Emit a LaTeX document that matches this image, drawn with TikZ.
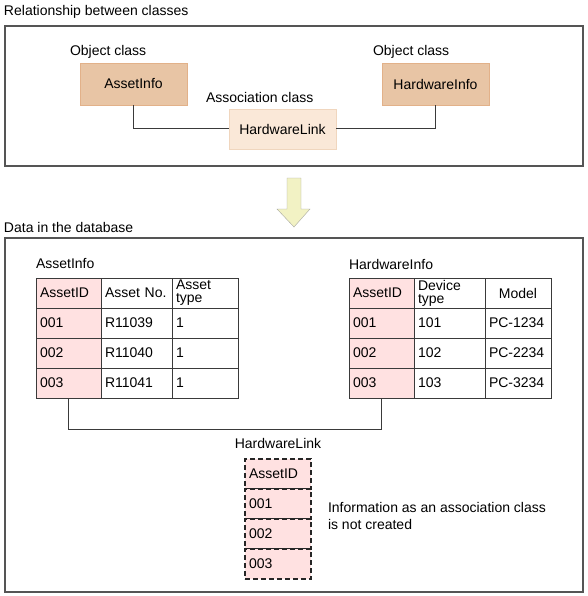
\documentclass[tikz,border=0pt]{standalone}
\usepackage{fontspec}
\setmainfont{Liberation Sans}
\usetikzlibrary{positioning}

\definecolor{objfill}{HTML}{E8C5A5}
\definecolor{objdraw}{HTML}{E2B189}
\definecolor{assocfill}{HTML}{FAE8D8}
\definecolor{assocdraw}{HTML}{F0D6BE}
\definecolor{keyfill}{HTML}{FFE1E1}
\definecolor{linecol}{HTML}{3A3A3A}
\definecolor{framecol}{HTML}{555555}
\definecolor{arrowfill}{HTML}{F2F2C4}
\definecolor{arrowdraw}{HTML}{A8A8A0}

\begin{document}
\begin{tikzpicture}[
    x=1pt, y=-1pt,
    every node/.style={font=\fontsize{14}{13}\selectfont, inner sep=0pt, outer sep=0pt},
    lbl/.style={anchor=west},
    objbox/.style={draw=objdraw, fill=objfill, minimum width=107pt, minimum height=42pt},
    assocbox/.style={draw=assocdraw, fill=assocfill, minimum width=107pt, minimum height=40pt},
    frame/.style={draw=framecol, line width=1.2pt},
    link/.style={draw=linecol, line width=1pt},
    cell/.style={draw=linecol, line width=0.8pt, minimum height=30pt, anchor=north west, align=left, inner xsep=4pt},
    keycell/.style={cell, fill=keyfill},
    linkcell/.style={keycell, draw=black!85, line width=1.1pt, dash pattern=on 5pt off 3pt},
    colA/.style={text width=57pt},
    colB/.style={text width=63pt},
    colC/.style={text width=58pt}
]
\useasboundingbox (0,0) rectangle (587,596);

% Relationship between classes
\node[lbl] (reltitle) at (4,12) {Relationship between classes};
\draw[frame] (5,26) rectangle (583,166);

\node[objbox] (asset) at (133.5,84) {AssetInfo};
\node[objbox] (hwinfo) at (435.5,84) {HardwareInfo};
\node[assocbox] (hwlink) at (282.5,129) {HardwareLink};
\node[lbl] at (70,52) {Object class};
\node[lbl] at (373,52) {Object class};
\node[lbl] at (206,97) {Association class};

\draw[link] (asset.south) |- (hwlink.west);
\draw[link] (hwlink.east) -| (hwinfo.south);

% Down arrow
\draw[draw=arrowdraw, fill=arrowfill] (287,178) -- (301,178) -- (301,209) -- (310,209)
    -- (294,227) -- (277,209) -- (287,209) -- cycle;

% Data in the database
\node[lbl] (datatitle) at (4,227) {Data in the database};
\draw[frame] (5,238) rectangle (583,592);

% AssetInfo table
\node[lbl] at (36,264) {AssetInfo};
\node[keycell, colA] (a01) at (36,278) {AssetID};
\node[cell, colB, right=0pt of a01] (a02) {Asset No.};
\node[cell, colC, right=0pt of a02] (a03) {Asset\\type};
\foreach \id/\no/\ty [count=\r, remember=\r as \p (initially 0)] in
    {001/R11039/1, 002/R11040/1, 003/R11041/1} {
  \node[keycell, colA, below=0pt of a\p1] (a\r1) {\id};
  \node[cell, colB, right=0pt of a\r1] (a\r2) {\no};
  \node[cell, colC, right=0pt of a\r2] (a\r3) {\ty};
}

% HardwareInfo table
\node[lbl] at (349,264) {HardwareInfo};
\node[keycell, colA] (h01) at (349,278) {AssetID};
\node[cell, colB, right=0pt of h01] (h02) {Device\\type};
\node[cell, colC, align=center, right=0pt of h02] (h03) {Model};
\foreach \id/\dev/\model [count=\r, remember=\r as \p (initially 0)] in
    {001/101/PC-1234, 002/102/PC-2234, 003/103/PC-3234} {
  \node[keycell, colA, below=0pt of h\p1] (h\r1) {\id};
  \node[cell, colB, right=0pt of h\r1] (h\r2) {\dev};
  \node[cell, colC, right=0pt of h\r2] (h\r3) {\model};
}

% HardwareLink table (not created)
\node (linktitle) at (278,443) {HardwareLink};
\node[linkcell, colC] (l0) at (245,459) {AssetID};
\foreach \id [count=\r, remember=\r as \p (initially 0)] in {001, 002, 003} {
  \node[linkcell, colC, below=0pt of l\p] (l\r) {\id};
}
\node[lbl, align=left, font=\fontsize{14}{17}\selectfont] (note) at (328,516)
    {Information as an association class\\is not created};

\draw[link] (a31.south) -- ++(0,31) -| (h31.south);

\end{tikzpicture}
\end{document}
